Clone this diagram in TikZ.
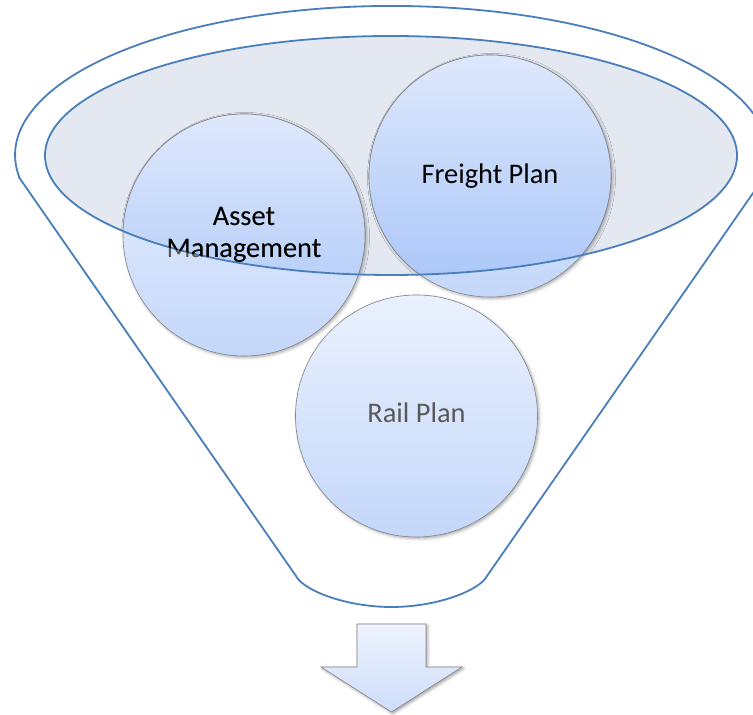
\documentclass[tikz,border=0pt]{standalone}
\usepackage{fontspec}
\setmainfont{Carlito}
\usetikzlibrary{shadows.blur}
\definecolor{funnelblue}{RGB}{74,126,187}
\definecolor{circtop}{RGB}{234,241,253}
\definecolor{circbot}{RGB}{196,215,250}
\definecolor{circtopin}{RGB}{222,232,252}
\definecolor{circbotin}{RGB}{168,197,248}
\definecolor{arrtop}{RGB}{238,243,253}
\definecolor{arrbot}{RGB}{205,221,250}
\definecolor{ellfill}{RGB}{228,232,240}
\definecolor{circedge}{RGB}{130,130,130}
\definecolor{txtgray}{RGB}{89,89,89}
\begin{document}
\begin{tikzpicture}[x=1bp,y=1bp]
\tikzset{
  funnelline/.style={draw=funnelblue, line width=1.8bp},
  bubble/.style={circle, draw=circedge, line width=0.6bp, top color=circtop, bottom color=circbot,
    minimum size=242bp, inner sep=0pt,
    blur shadow={shadow xshift=1.5bp, shadow yshift=-1.5bp, shadow blur radius=3bp, shadow opacity=35}},
  bubblein/.style={circle, draw=circedge, line width=0.6bp, top color=circtopin, bottom color=circbotin,
    minimum size=242bp, inner sep=0pt},
  arrowbox/.style={draw=circedge, line width=0.6bp, top color=arrtop, bottom color=arrbot,
    blur shadow={shadow xshift=1.5bp, shadow yshift=-1.5bp, shadow blur radius=3bp, shadow opacity=40}},
  bubbletext/.style={font=\fontsize{28.5}{32}\selectfont, align=center, text=black, inner sep=0pt},
}
\useasboundingbox (0,0) rectangle (753,715);
% funnel outline
\draw[funnelline] (19.5,537) -- (296,139)
  .. controls (303,125) and (345,108) .. (391.5,108)
  .. controls (438,108) and (480,125) .. (487,139)
  -- (763.5,537) arc[start angle=-8.9, end angle=188.9, x radius=376.5, y radius=149] -- cycle;
% top ellipse fill
\fill[ellfill] (391,559.5) ellipse[x radius=346, y radius=119.5];
% circles
\node[bubble] (asset) at (244,480) {};
\node[bubble] (freight) at (490,539) {};
\node[bubble] (rail) at (416.5,299) {};
% parts of the circles seen through the ellipse
\begin{scope}
  \clip (391,559.5) ellipse[x radius=346, y radius=119.5];
  \node[bubblein] (assetin) at (asset.center) {};
  \node[bubblein] (freightin) at (freight.center) {};
\end{scope}
% top ellipse outline
\draw[funnelline] (391,559.5) ellipse[x radius=346, y radius=119.5];
% texts
\node[bubbletext, text=txtgray] (assetgray) at (asset.center) {Asset\\Management};
\begin{scope}
  \clip (391,559.5) ellipse[x radius=346, y radius=119.5];
  \node[bubbletext] (assetblack) at (asset.center) {Asset\\Management};
\end{scope}
\node[bubbletext] (freighttxt) at (freight.center) {Freight Plan};
\node[bubbletext, text=txtgray, yshift=3bp] (railtxt) at (rail.center) {Rail Plan};
% down arrow
\draw[arrowbox] (357,91) -- (426,91) -- (426,48) -- (462,48) -- (391.5,3) -- (321,48) -- (357,48) -- cycle;
\end{tikzpicture}
\end{document}
